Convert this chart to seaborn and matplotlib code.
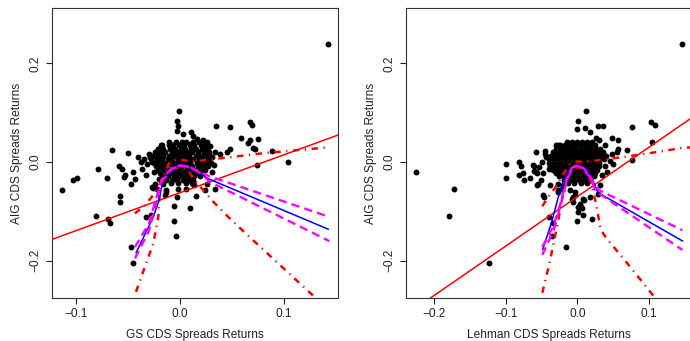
import matplotlib
matplotlib.use("Agg")
import matplotlib.pyplot as plt
import seaborn as sns
import pandas as pd

# ---- GS panel data (x = GS CDS returns, y = AIG CDS returns) ----
# dense centre of the cloud, one list of GS returns per AIG return level
gs_core_y = [0.041, 0.034, 0.027, 0.020, 0.013, 0.006, -0.001, -0.008, -0.015, -0.022, -0.029, -0.036, -0.043]
gs_core_x = [
    [-0.011, -0.004, 0.002, 0.006, 0.013, 0.018],
    [-0.017, -0.011, -0.007, -0.001, 0.004, 0.010, 0.014, 0.020, 0.024],
    [-0.021, -0.016, -0.010, -0.005, 0.001, 0.005, 0.011, 0.015, 0.021, 0.026],
    [-0.024, -0.019, -0.014, -0.008, -0.003, 0.002, 0.008, 0.012, 0.017, 0.023, 0.027],
    [-0.026, -0.021, -0.016, -0.011, -0.006, -0.001, 0.004, 0.009, 0.015, 0.019, 0.024, 0.029],
    [-0.028, -0.022, -0.017, -0.012, -0.007, -0.002, 0.003, 0.008, 0.013, 0.018, 0.023, 0.028],
    [-0.025, -0.020, -0.015, -0.010, -0.005, 0.000, 0.005, 0.010, 0.016, 0.020, 0.025, 0.030],
    [-0.023, -0.018, -0.013, -0.008, -0.003, 0.002, 0.007, 0.012, 0.017, 0.022, 0.027],
    [-0.021, -0.016, -0.011, -0.006, -0.001, 0.004, 0.009, 0.014, 0.019, 0.024],
    [-0.019, -0.014, -0.009, -0.004, 0.001, 0.006, 0.011, 0.016, 0.021],
    [-0.017, -0.012, -0.006, -0.001, 0.004, 0.009, 0.014, 0.019],
    [-0.013, -0.008, -0.003, 0.003, 0.008, 0.013],
    [-0.009, -0.002, 0.006, 0.012],
]
# the scattered points around the centre
gs_x = [0.143, -0.114, -0.103, -0.099, -0.079, -0.066, -0.050, -0.070, -0.081, -0.069,
        -0.067, -0.058, -0.058, -0.047, -0.045, -0.033, -0.028, -0.001, -0.003, -0.002,
        -0.003, 0.003, 0.011, 0.013, 0.016, 0.035, 0.048, 0.068, 0.069, 0.059,
        0.068, 0.075, 0.066, 0.070, 0.072, 0.089, 0.048, 0.045, 0.039, 0.034,
        0.026, 0.029, 0.074, 0.104, 0.034, 0.015, 0.010, -0.006, -0.006, -0.004,
        -0.003, -0.059, -0.056, -0.054, -0.053, -0.047, -0.045, -0.043, -0.040, -0.038,
        -0.035, -0.032, -0.037, -0.033, -0.027, -0.024, -0.029, -0.021, -0.025, -0.020,
        -0.016, -0.022, -0.026, -0.013, -0.014, -0.027, -0.024, -0.013, -0.002, 0.006,
        0.014, 0.013, 0.024, 0.026, 0.031, 0.033, 0.031, -0.030, -0.018, 0.022, 0.028,
        -0.008, 0.007, 0.019, -0.014, 0.003, -0.019, 0.021, -0.006, 0.010, -0.011]
gs_y = [0.239, -0.056, -0.037, -0.032, -0.013, 0.024, 0.018, -0.032, -0.109, -0.116,
        -0.123, -0.069, -0.080, -0.172, -0.204, -0.111, -0.108, 0.104, 0.084, 0.074,
        0.064, 0.057, 0.061, 0.054, 0.047, 0.074, 0.072, 0.081, 0.076, 0.049,
        0.044, 0.046, 0.038, 0.028, 0.026, 0.023, 0.027, 0.020, 0.017, 0.020,
        0.040, 0.032, -0.005, 0.001, -0.055, -0.069, -0.093, -0.089, -0.120, -0.150,
        -0.071, -0.007, -0.013, -0.030, -0.027, -0.044, -0.020, -0.034, 0.010, 0.000,
        0.007, -0.003, -0.013, -0.027, 0.000, 0.014, 0.010, 0.027, -0.020, -0.034,
        -0.044, -0.054, -0.052, -0.057, -0.067, -0.050, -0.044, -0.061, -0.054, -0.054,
        -0.047, -0.044, -0.057, -0.044, 0.010, -0.005, -0.020, 0.016, 0.035, 0.045, 0.020,
        0.030, 0.016, 0.009, -0.004, -0.012, 0.023, -0.019, -0.026, 0.037, 0.002]

# fitted lines, GS panel
gs_ols = (-0.062, 0.767)  # intercept, slope
gs_med_x = [-0.0424, -0.0257, -0.020, -0.0161, -0.0064, 0.0, 0.0064, 0.016, 0.0273, 0.1431]
gs_med_y = [-0.184, -0.111, -0.076, -0.0336, -0.0134, -0.005, -0.0067, -0.0168, -0.0336, -0.136]
gs_band_x = [-0.0434, -0.030, -0.0177, -0.008, 0.0, 0.0096, 0.0193, 0.029, 0.144]
gs_band_hi = [-0.172, -0.125, -0.0356, -0.012, -0.0067, -0.010, -0.0202, -0.029, -0.111]
gs_band_lo = [-0.195, -0.140, -0.040, -0.014, -0.0067, -0.010, -0.022, -0.040, -0.160]
gs_low_x = [-0.0424, -0.0338, -0.0257, -0.0209, -0.0193, -0.012, -0.005, 0.0, 0.007, 0.0145, 0.0306, 0.0498, 0.1286]
gs_low_y = [-0.263, -0.212, -0.165, -0.111, -0.044, -0.018, -0.012, -0.011, -0.015, -0.037, -0.077, -0.118, -0.271]
gs_up_x = [-0.0434, -0.0338, -0.025, -0.0177, -0.010, -0.003, 0.010, 0.020, 0.040, 0.080, 0.143]
gs_up_y = [-0.104, -0.0875, -0.065, -0.037, 0.000, 0.006, 0.002, 0.003, 0.008, 0.018, 0.030]

# ---- Lehman panel data ----
leh_core_y = [0.041, 0.034, 0.027, 0.020, 0.013, 0.006, -0.001, -0.008, -0.015, -0.022, -0.029, -0.036, -0.043]
leh_core_x = [
    [-0.015, -0.008, -0.001, 0.006, 0.013, 0.020],
    [-0.024, -0.017, -0.010, -0.003, 0.004, 0.011, 0.018, 0.025],
    [-0.030, -0.023, -0.016, -0.009, -0.002, 0.005, 0.012, 0.019, 0.026, 0.032],
    [-0.034, -0.027, -0.020, -0.013, -0.006, 0.001, 0.008, 0.015, 0.022, 0.029, 0.036],
    [-0.037, -0.030, -0.023, -0.016, -0.009, -0.002, 0.005, 0.012, 0.019, 0.026, 0.033, 0.039],
    [-0.039, -0.032, -0.025, -0.018, -0.011, -0.004, 0.003, 0.010, 0.017, 0.024, 0.031, 0.037],
    [-0.040, -0.033, -0.026, -0.019, -0.012, -0.005, 0.002, 0.009, 0.016, 0.023, 0.030],
    [-0.038, -0.031, -0.024, -0.017, -0.010, -0.003, 0.004, 0.011, 0.018, 0.025, 0.031],
    [-0.034, -0.027, -0.020, -0.013, -0.006, 0.001, 0.008, 0.015, 0.022, 0.028],
    [-0.030, -0.023, -0.016, -0.009, -0.002, 0.005, 0.012, 0.019, 0.025],
    [-0.025, -0.018, -0.011, -0.004, 0.003, 0.010, 0.017, 0.023],
    [-0.019, -0.012, -0.005, 0.002, 0.009, 0.016],
    [-0.013, -0.004, 0.005, 0.013],
]
leh_x = [0.146, -0.226, -0.172, -0.180, -0.124, -0.100, -0.100, -0.081, -0.079, -0.081,
         -0.076, -0.075, -0.066, -0.058, -0.057, -0.060, -0.058, -0.053, -0.049, -0.048,
         -0.051, -0.046, -0.040, -0.034, -0.035, -0.016, 0.012, 0.001, 0.000, 0.011,
         0.029, 0.036, 0.018, 0.026, 0.048, 0.057, 0.077, 0.103, 0.108, 0.105,
         0.069, 0.055, 0.057, 0.039, 0.048, 0.077, 0.046, 0.050, 0.039, 0.041,
         0.034, 0.032, 0.001, 0.007, 0.020, 0.008, 0.000, 0.001, -0.006, -0.003,
         -0.027, -0.048, -0.038, -0.027, -0.022, -0.003, -0.008, 0.008, 0.004, 0.018,
         -0.055, -0.027, -0.020, -0.010, 0.029, 0.010, -0.006, 0.004, -0.044, -0.045,
         0.030, -0.030, 0.040, -0.062, -0.060, -0.057, -0.045, -0.041, -0.040, -0.027,
         -0.012, 0.009, 0.022, -0.020, 0.003, -0.028, 0.016, -0.006, 0.013, -0.016]
leh_y = [0.239, -0.019, -0.055, -0.109, -0.204, -0.003, -0.032, 0.000, -0.007, -0.027,
         -0.021, -0.037, -0.032, 0.020, -0.046, -0.007, -0.020, -0.010, 0.000, -0.023,
         -0.037, -0.071, -0.111, -0.123, -0.150, -0.172, 0.104, 0.084, 0.067, 0.069,
         0.074, 0.074, 0.062, 0.049, 0.049, 0.045, 0.072, 0.081, 0.076, 0.040,
         0.024, 0.020, 0.027, 0.035, 0.017, 0.004, 0.003, -0.003, -0.007, -0.020,
         -0.027, -0.047, -0.090, -0.092, -0.116, -0.108, -0.120, -0.101, -0.080, -0.061,
         -0.061, -0.067, -0.047, -0.044, -0.054, -0.067, -0.074, -0.074, -0.084, -0.071,
         -0.044, -0.057, -0.047, -0.057, -0.064, -0.077, -0.071, -0.087, 0.010, 0.022,
         0.045, 0.035, 0.012, -0.005, -0.017, -0.023, 0.017, 0.010, -0.013, 0.034,
         0.030, 0.016, 0.009, -0.004, -0.012, 0.023, -0.019, -0.026, 0.037, 0.002]

leh_ols = (-0.070, 1.0)
leh_med_x = [-0.0484, -0.0358, -0.0266, -0.0172, -0.0078, 0.0014, 0.0108, 0.020, 0.0271, 0.0317, 0.1474]
leh_med_y = [-0.177, -0.121, -0.0707, -0.030, -0.010, -0.0053, -0.0133, -0.030, -0.057, -0.064, -0.160]
leh_band_x = [-0.049, -0.0336, -0.0242, -0.0148, -0.0078, -0.0008, 0.0084, 0.0178, 0.0248, 0.033, 0.147]
leh_band_hi = [-0.172, -0.130, -0.087, -0.035, -0.012, -0.006, -0.012, -0.028, -0.050, -0.0586, -0.138]
leh_band_lo = [-0.188, -0.140, -0.093, -0.039, -0.014, -0.0067, -0.014, -0.031, -0.056, -0.066, -0.178]
leh_low_x = [-0.049, -0.0406, -0.0336, -0.0266, -0.0218, -0.015, -0.007, 0.0, 0.008, 0.015, 0.020, 0.0271, 0.0327, 0.041, 0.0643, 0.1087]
leh_low_y = [-0.265, -0.215, -0.168, -0.118, -0.077, -0.035, -0.015, -0.010, -0.013, -0.025, -0.044, -0.091, -0.137, -0.155, -0.195, -0.275]
leh_up_x = [-0.049, -0.0406, -0.030, -0.020, -0.010, 0.0, 0.010, 0.025, 0.067, 0.100, 0.148, 0.160]
leh_up_y = [-0.0895, -0.0707, -0.050, -0.025, -0.004, 0.001, 0.001, 0.003, 0.011, 0.018, 0.029, 0.030]

xticks_gs = [-0.1, 0.0, 0.1]
xticks_gs_lab = ["\u22120.1", "0.0", "0.1"]
xticks_leh = [-0.2, -0.1, 0.0, 0.1]
xticks_leh_lab = ["\u22120.2", "\u22120.1", "0.0", "0.1"]
yticks = [-0.2, 0.0, 0.2]
yticks_lab = ["\u22120.2", "0.0", "0.2"]


def cloud(core_y, core_x, xs, ys):
    px = [x for row in core_x for x in row] + xs
    py = [y for y, row in zip(core_y, core_x) for _ in row] + ys
    return pd.DataFrame({"x": px, "y": py})


sns.set_style("ticks")
plt.rcParams["font.family"] = ["Liberation Sans", "DejaVu Sans"]

fig = plt.figure(figsize=(6.9, 3.41), dpi=100)
W, H = 690, 341
ax1 = fig.add_axes([52 / W, 43 / H, 286 / W, 290 / H])
ax2 = fig.add_axes([406 / W, 43 / H, 286 / W, 290 / H])

panels = [
    (ax1, cloud(gs_core_y, gs_core_x, gs_x, gs_y), gs_ols, gs_med_x, gs_med_y,
     gs_band_x, gs_band_hi, gs_band_lo, gs_low_x, gs_low_y, gs_up_x, gs_up_y,
     (-0.1234, 0.1524), xticks_gs, xticks_gs_lab, "GS CDS Spreads Returns"),
    (ax2, cloud(leh_core_y, leh_core_x, leh_x, leh_y), leh_ols, leh_med_x, leh_med_y,
     leh_band_x, leh_band_hi, leh_band_lo, leh_low_x, leh_low_y, leh_up_x, leh_up_y,
     (-0.2396, 0.1604), xticks_leh, xticks_leh_lab, "Lehman CDS Spreads Returns"),
]

dashdot = (2.6, 2.2, 0.5, 2.2)
for (ax, df, ols, mx, my, bx, bhi, blo, lx, ly, ux, uy,
     xlim, xt, xtl, xlabel) in panels:
    sns.scatterplot(data=df, x="x", y="y", ax=ax, color="black", s=18,
                    linewidth=0, legend=False, zorder=2)
    ax.axline((0, ols[0]), slope=ols[1], color="red", lw=1.1, zorder=3)
    ax.plot(lx, ly, color="red", lw=1.8, dashes=dashdot, zorder=4)
    ax.plot(ux, uy, color="red", lw=1.8, dashes=dashdot, zorder=4)
    ax.plot(mx, my, color="blue", lw=1.1, zorder=5)
    ax.plot(bx, bhi, color="magenta", lw=1.7, dashes=(3.5, 2.2), zorder=6)
    ax.plot(bx, blo, color="magenta", lw=1.7, dashes=(3.5, 2.2), zorder=6)

    ax.set_xlim(*xlim)
    ax.set_ylim(-0.2754, 0.3125)
    ax.set_xticks(xt, xtl)
    ax.set_yticks(yticks, yticks_lab, rotation=90, va="center")
    ax.tick_params(length=4, width=0.8, labelsize=8.6, colors="#222222")
    ax.set_xlabel(xlabel, fontsize=8.6, labelpad=6, color="#222222")
    ax.set_ylabel("AIG CDS Spreads Returns", fontsize=8.6, labelpad=5, color="#222222")
    for sp in ax.spines.values():
        sp.set_visible(True)
        sp.set_color("#333333")
        sp.set_linewidth(0.8)

fig.savefig("out.png", dpi=100)
